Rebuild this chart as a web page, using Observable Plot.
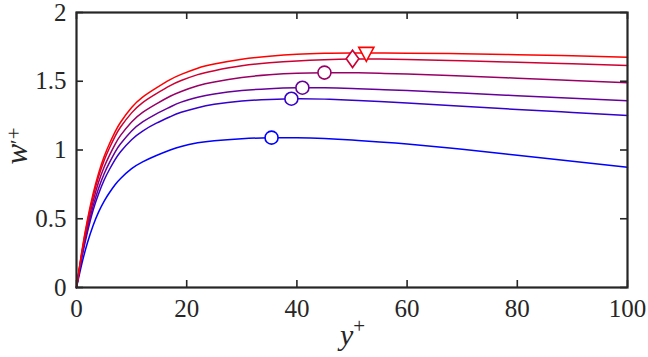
<!DOCTYPE html>
<html>
<head>
<meta charset="utf-8">
<script src="https://cdn.jsdelivr.net/npm/d3@7"></script>
<script src="https://cdn.jsdelivr.net/npm/@observablehq/plot@0.6"></script>
<style>
  html, body { margin: 0; padding: 0; background: #fff; }
</style>
</head>
<body>
<div id="chart"></div>
<script>
// y+ sample positions
const yPlus = [0,1,2,3,4,5,6,7,8,10,12,14.5,17,19,22,25,30,35,40,45,50,55,60,70,80,90,100];
// w'+ profiles, lowest (blue) to highest (red)
const s1 = [0,0.178,0.327,0.449,0.548,0.627,0.691,0.747,0.793,0.864,0.914,0.96,1.0,1.026,1.052,1.068,1.082,1.089,1.089,1.083,1.072,1.058,1.043,1.005,0.962,0.918,0.875];
const s2 = [0,0.222,0.405,0.56,0.68,0.78,0.86,0.93,0.988,1.075,1.138,1.195,1.242,1.274,1.308,1.332,1.356,1.368,1.373,1.370,1.362,1.352,1.341,1.318,1.295,1.273,1.251];
const s3 = [0,0.235,0.43,0.59,0.72,0.826,0.91,0.985,1.045,1.138,1.204,1.263,1.313,1.348,1.383,1.407,1.432,1.446,1.452,1.452,1.447,1.440,1.432,1.414,1.395,1.377,1.358];
const s4 = [0,0.25,0.455,0.625,0.765,0.875,0.963,1.041,1.106,1.204,1.274,1.336,1.391,1.426,1.467,1.495,1.527,1.547,1.558,1.562,1.562,1.558,1.552,1.538,1.522,1.506,1.489];
const s5 = [0,0.262,0.48,0.66,0.805,0.922,1.016,1.099,1.167,1.27,1.345,1.41,1.468,1.505,1.548,1.577,1.612,1.634,1.648,1.657,1.662,1.662,1.659,1.649,1.638,1.627,1.615];
const s6 = [0,0.27,0.495,0.68,0.83,0.95,1.047,1.132,1.202,1.309,1.385,1.452,1.512,1.55,1.595,1.625,1.66,1.682,1.696,1.703,1.706,1.706,1.704,1.700,1.693,1.685,1.675];
const seriesList = [s1, s2, s3, s4, s5, s6];
const seriesColors = ["#0000ff", "#3300cc", "#660099", "#990066", "#cc0033", "#ff0000"];
// peak markers
const markerX = [35.4, 39.0, 41.0, 45.0, 50.1, 52.6];
const markerY = [1.09, 1.373, 1.453, 1.563, 1.663, 1.706];
const markerShape = ["o", "o", "o", "o", "d", "v"];
// ticks
const xTicks = [0, 20, 40, 60, 80, 100];
const yTicks = [0, 0.5, 1, 1.5, 2];

const rows = [];
seriesList.forEach((s, i) => s.forEach((v, j) => rows.push({x: yPlus[j], y: v, s: i, color: seriesColors[i]})));
const markers = markerX.map((x, i) => ({x, y: markerY[i], shape: markerShape[i], color: seriesColors[i]}));

const tallDiamond = {
  draw(ctx, size) {
    const r = Math.sqrt(size / Math.PI);
    ctx.moveTo(0, -1.24 * r); ctx.lineTo(0.9 * r, 0); ctx.lineTo(0, 1.24 * r); ctx.lineTo(-0.9 * r, 0); ctx.closePath();
  }
};
const triDown = {
  draw(ctx, size) {
    const r = Math.sqrt(size / Math.PI);
    ctx.moveTo(-1.08 * r, -0.8 * r); ctx.lineTo(1.08 * r, -0.8 * r); ctx.lineTo(0, 1.2 * r); ctx.closePath();
  }
};

const W = 648, H = 357, mL = 76, mR = 21, mT = 12, mB = 70;
const pw = W - mL - mR, ph = H - mT - mB;
const tickLen = 7;
const axisColor = "#262626";
const serif = "'Liberation Serif', serif";

const plot = Plot.plot({
  width: W, height: H,
  marginLeft: mL, marginRight: mR, marginTop: mT, marginBottom: mB,
  style: {fontFamily: serif, fontSize: "25px", color: axisColor, background: "#fff"},
  x: {domain: [0, 100]},
  y: {domain: [0, 2]},
  marks: [
    Plot.line(rows, {x: "x", y: "y", z: "s", stroke: "color", strokeWidth: 1.5, curve: "natural"}),
    Plot.dot(markers.filter(d => d.shape === "o"), {x: "x", y: "y", stroke: "color", fill: "white", r: 6.5, strokeWidth: 1.6, symbol: "circle"}),
    Plot.dot(markers.filter(d => d.shape === "d"), {x: "x", y: "y", stroke: "color", fill: "white", r: 7, strokeWidth: 1.6, symbol: tallDiamond}),
    Plot.dot(markers.filter(d => d.shape === "v"), {x: "x", y: "y", stroke: "color", fill: "white", r: 7, strokeWidth: 1.6, symbol: triDown}),
    // inward ticks on all four sides
    Plot.tickX(xTicks, {x: d => d, insetTop: ph - tickLen, stroke: axisColor, strokeWidth: 1.6}),
    Plot.tickX(xTicks, {x: d => d, insetBottom: ph - tickLen, stroke: axisColor, strokeWidth: 1.6}),
    Plot.tickY(yTicks, {y: d => d, insetRight: pw - tickLen, stroke: axisColor, strokeWidth: 1.6}),
    Plot.tickY(yTicks, {y: d => d, insetLeft: pw - tickLen, stroke: axisColor, strokeWidth: 1.6}),
    Plot.frame({stroke: axisColor, strokeWidth: 2.2}),
    Plot.axisX(xTicks, {anchor: "bottom", tickSize: 0, tickPadding: 12, label: null, tickFormat: d => String(d), fontFamily: serif, fontSize: 25}),
    Plot.axisY(yTicks, {anchor: "left", tickSize: 0, tickPadding: 10, label: null, tickFormat: d => String(d), fontFamily: serif, fontSize: 25})
  ]
});

document.getElementById("chart").appendChild(plot);

// axis titles with italic variable + superscripts
const svg = d3.select(plot);
const xl = svg.append("text")
  .attr("x", mL + pw / 2 + 1).attr("y", 345)
  .attr("text-anchor", "middle")
  .attr("fill", axisColor)
  .style("font-family", serif)
  .style("font-size", "30px");
xl.append("tspan").style("font-style", "italic").text("y");
xl.append("tspan").attr("dy", -12).style("font-size", "21px").text("+");

const yl = svg.append("text")
  .attr("transform", `translate(27,146) rotate(-90)`)
  .attr("text-anchor", "middle")
  .attr("fill", axisColor)
  .style("font-family", serif)
  .style("font-size", "31px");
yl.append("tspan").style("font-style", "italic").text("w");
yl.append("tspan").attr("dy", -2).style("font-size", "21px").text("\u2032");
yl.append("tspan").attr("dy", -4).style("font-size", "21px").text("+");
</script>
</body>
</html>
